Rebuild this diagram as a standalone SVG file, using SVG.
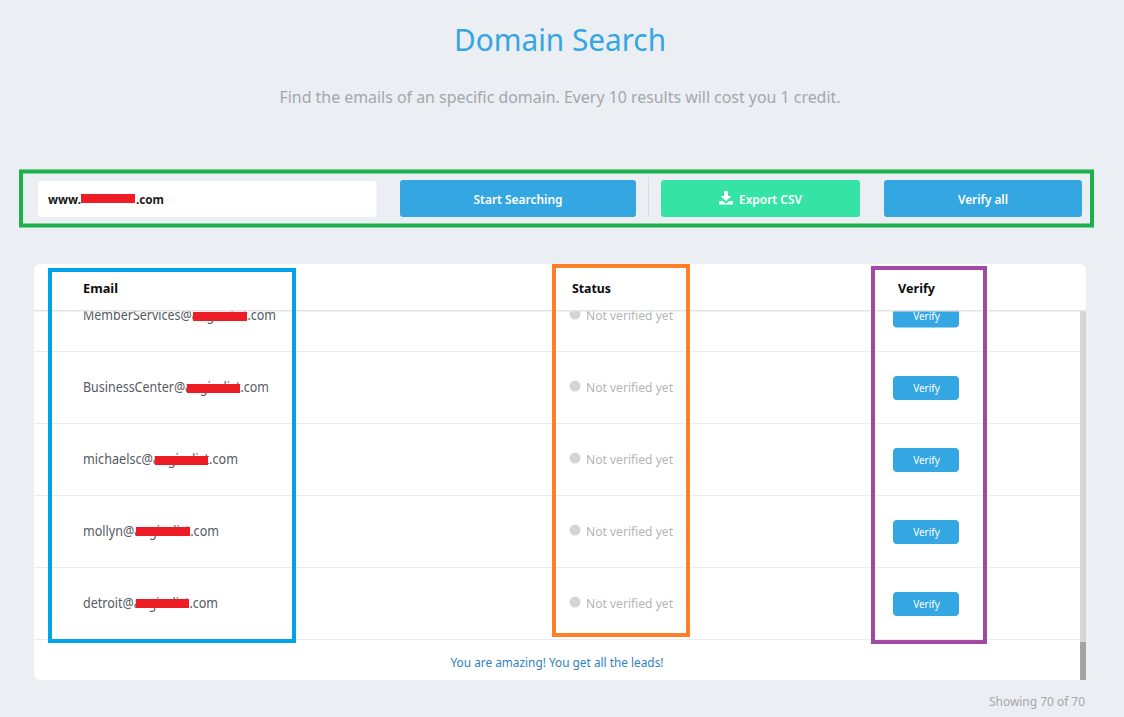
<svg xmlns="http://www.w3.org/2000/svg" width="1124" height="717" viewBox="0 0 1124 717">
<style>
text{font-family:"Noto Sans","Open Sans","Liberation Sans",sans-serif}
.btn{fill:#34a6e1}
.btnt{fill:#fff;font-size:12.5px;font-weight:600;text-anchor:middle}
.sm{fill:#fff;font-size:10px;text-anchor:middle}
.hd{fill:#0b0b0b;font-size:13px;font-weight:700}
.em{fill:#555a62;font-size:13.5px}
.st{fill:#b4b4b4;font-size:12.5px}
.dot{fill:#d4d4d4}
.row{stroke:#eceded;stroke-width:1}
.mask{fill:#ee1c25}
.box{fill:none;stroke-width:4}
</style>
<defs><clipPath id="body"><rect x="34" y="311" width="1052" height="369"/></clipPath></defs>
<rect width="1124" height="717" fill="#ebeef3"/>
<text x="560" y="51" font-size="31" fill="#34a6e1" text-anchor="middle" textLength="212" lengthAdjust="spacingAndGlyphs">Domain Search</text>
<text x="560" y="103" font-size="16" fill="#a4a7aa" text-anchor="middle" textLength="561" lengthAdjust="spacingAndGlyphs">Find the emails of an specific domain. Every 10 results will cost you 1 credit.</text>

<g id="search-input">
<rect x="38" y="181" width="338.500" height="36" rx="3" fill="#fff"/>
<text x="48" y="204" font-size="13" font-weight="700" fill="#1a1a1a" textLength="33" lengthAdjust="spacingAndGlyphs">www.</text>
<rect class="mask" x="81" y="194" width="54" height="9"/>
<text x="136" y="204" font-size="13" font-weight="700" fill="#1a1a1a" textLength="28" lengthAdjust="spacingAndGlyphs">.com</text>
</g>
<g id="start-searching"><rect class="btn" x="400" y="180" width="236" height="37" rx="3"/><text class="btnt" x="518" y="203.500" textLength="89" lengthAdjust="spacingAndGlyphs">Start Searching</text></g>
<rect x="648" y="177" width="1" height="40" fill="#d8dbdf"/>
<g id="export-csv"><rect x="661" y="180" width="199" height="37" rx="3" fill="#35e3a6"/>
<path d="M724 191h4v5h3.500l-5.500 5-5.500-5h3.500zM719 201h3.500l3.500 2.500 3.500-2.500h3.500v3.500h-14z" fill="#fff"/>
<text class="btnt" x="770.500" y="203.500" textLength="63" lengthAdjust="spacingAndGlyphs">Export CSV</text></g>
<g id="verify-all"><rect class="btn" x="884" y="180" width="198" height="37" rx="3"/><text class="btnt" x="983" y="203.500" textLength="50" lengthAdjust="spacingAndGlyphs">Verify all</text></g>

<g id="table">
<rect x="34" y="264" width="1052" height="416" rx="6" fill="#fff"/>
<rect x="1080" y="311" width="6" height="331" fill="#d5d5d8"/>
<rect x="1080" y="642" width="6" height="38" fill="#a3a3a3"/>
<g clip-path="url(#body)">
<g id="row1"><text class="em" x="83" y="320" textLength="193" lengthAdjust="spacingAndGlyphs">MemberServices@angieslist.com</text><rect class="mask" x="193" y="312" width="54" height="9"/><circle class="dot" cx="575" cy="314" r="5.500"/><text class="st" x="586" y="320" textLength="87" lengthAdjust="spacingAndGlyphs">Not verified yet</text><rect class="btn" x="893" y="304" width="66" height="23.500" rx="4"/><text class="sm" x="926.500" y="320">Verify</text></g>
<g id="row2"><text class="em" x="83" y="392" textLength="186" lengthAdjust="spacingAndGlyphs">BusinessCenter@angieslist.com</text><rect class="mask" x="187" y="384" width="53" height="9"/><circle class="dot" cx="575" cy="386" r="5.500"/><text class="st" x="586" y="392" textLength="87" lengthAdjust="spacingAndGlyphs">Not verified yet</text><rect class="btn" x="893" y="376" width="66" height="24" rx="4"/><text class="sm" x="926.500" y="392">Verify</text></g>
<g id="row3"><text class="em" x="83" y="464" textLength="155" lengthAdjust="spacingAndGlyphs">michaelsc@angieslist.com</text><rect class="mask" x="155" y="456" width="53" height="9"/><circle class="dot" cx="575" cy="458" r="5.500"/><text class="st" x="586" y="464" textLength="87" lengthAdjust="spacingAndGlyphs">Not verified yet</text><rect class="btn" x="893" y="448" width="66" height="24" rx="4"/><text class="sm" x="926.500" y="464">Verify</text></g>
<g id="row4"><text class="em" x="83" y="536" textLength="136" lengthAdjust="spacingAndGlyphs">mollyn@angieslist.com</text><rect class="mask" x="136" y="527" width="54" height="9"/><circle class="dot" cx="575" cy="530" r="5.500"/><text class="st" x="586" y="536" textLength="87" lengthAdjust="spacingAndGlyphs">Not verified yet</text><rect class="btn" x="893" y="520" width="66" height="24" rx="4"/><text class="sm" x="926.500" y="536">Verify</text></g>
<g id="row5"><text class="em" x="83" y="608" textLength="135" lengthAdjust="spacingAndGlyphs">detroit@angieslist.com</text><rect class="mask" x="136" y="599" width="53" height="9"/><circle class="dot" cx="575" cy="602" r="5.500"/><text class="st" x="586" y="608" textLength="87" lengthAdjust="spacingAndGlyphs">Not verified yet</text><rect class="btn" x="893" y="592" width="66" height="24" rx="4"/><text class="sm" x="926.500" y="608">Verify</text></g>
</g>
<path class="row" d="M34 351.500H1080M34 423.500H1080M34 495.500H1080M34 567.500H1080M34 639.500H1080"/>
<rect x="34" y="310" width="1052" height="1.500" fill="#e2e3e5"/>
<text class="hd" x="83" y="293" textLength="35" lengthAdjust="spacingAndGlyphs">Email</text>
<text class="hd" x="572" y="293" textLength="39" lengthAdjust="spacingAndGlyphs">Status</text>
<text class="hd" x="898" y="293" textLength="37" lengthAdjust="spacingAndGlyphs">Verify</text>
<text x="557" y="667" font-size="12.500" fill="#2f7fc0" text-anchor="middle" textLength="213" lengthAdjust="spacingAndGlyphs">You are amazing! You get all the leads!</text>
</g>
<text x="1085" y="706" font-size="12.500" fill="#a4a7aa" text-anchor="end" textLength="96" lengthAdjust="spacingAndGlyphs">Showing 70 of 70</text>

<g id="highlights">
<rect id="box-search" class="box" x="21" y="171.500" width="1071" height="54" stroke="#1bb04b"/>
<rect id="box-email" class="box" x="50" y="270" width="244" height="371" stroke="#00a2e8"/>
<rect id="box-status" class="box" x="554" y="266" width="134" height="369" stroke="#ff7f27"/>
<rect id="box-verify" class="box" x="873" y="268" width="112" height="374" stroke="#a349a4"/>
</g>
</svg>
